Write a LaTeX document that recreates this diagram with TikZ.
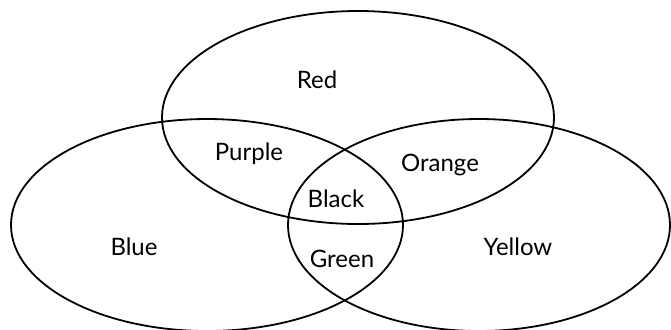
\documentclass[tikz,border=0pt]{standalone}
\usepackage{fontspec}
\setmainfont{Lato}
\usetikzlibrary{shapes.geometric, positioning}

\begin{document}
\begin{tikzpicture}[x=0.5pt, y=-0.5pt, line width=0.9pt,
                set/.style={ellipse, draw, inner sep=0pt},
                lbl/.style={anchor=base, font=\fontsize{12}{14}\selectfont}]
                \useasboundingbox (0,0) rectangle (671,329);
                \node[set, minimum width=196pt, minimum height=106.5pt] (red) at (358,117.5) {};
                \node[set, minimum width=196pt, minimum height=106pt] (blue) at (207,225) {};
                \node[set, minimum width=191pt, minimum height=106pt] (yellow) at (479,225) {};
                \node[lbl] (r) at (317,88) {Red};
                \node[lbl] (p) at (249,160) {Purple};
                \node[lbl] (o) at (440,171.5) {Orange};
                \node[lbl] (k) at (336,207) {Black};
                \node[lbl] (b) at (134,255.5) {Blue};
                \node[lbl] (g) at (342,267) {Green};
                \node[lbl] (y) at (518,255.5) {Yellow};
            \end{tikzpicture}
\end{document}
